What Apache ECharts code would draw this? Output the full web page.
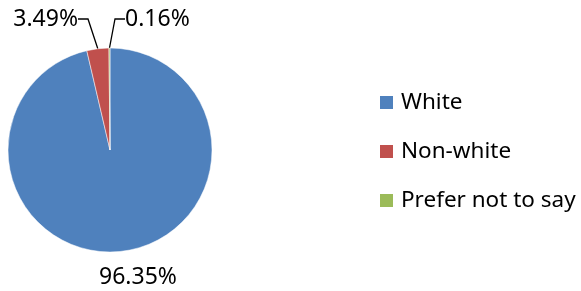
<!DOCTYPE html>
<html>
<head>
<meta charset="utf-8">
<script src="https://cdn.jsdelivr.net/npm/echarts@6/dist/echarts.min.js"></script>
<style>
  html, body { margin: 0; padding: 0; background: #fff; }
  #main { width: 581px; height: 291px; }
</style>
</head>
<body>
<div id="main"></div>
<script>
var categories = ['White', 'Non-white', 'Prefer not to say'];
var shares = [96.35, 3.49, 0.16];
var colors = ['#4F81BD', '#C0504D', '#9BBB59'];

var myChart = echarts.init(document.getElementById('main'));

var pieData = function () {
    var out = [];
    for (let i = 0; i < categories.length; i++) {
        var d = { name: categories[i], value: shares[i] };
        // the big slice has no leader line
        if (i === 0) d.labelLine = { show: false };
        out.push(d);
    }
    return out;
};

// label spots
var labelSpots = [
    { x: 138, y: 277, align: 'center' },
    { x: 78, y: 19, align: 'right' },
    { x: 125, y: 19, align: 'left' }
];

var option = {
    color: colors,
    textStyle: { fontFamily: 'Noto Sans, sans-serif' },
    legend: {
        orient: 'vertical',
        left: 378,
        top: 91,
        padding: 0,
        itemWidth: 15,
        itemHeight: 15,
        itemGap: 26,
        icon: 'rect',
        textStyle: { fontSize: 22.5, color: '#000', padding: [0, 0, 0, 2] },
        data: categories
    },
    series: [{
        type: 'pie',
        center: [110, 150],
        radius: 102,
        startAngle: 90,
        clockwise: true,
        percentPrecision: 2,
        avoidLabelOverlap: false,
        itemStyle: { borderColor: '#fff', borderWidth: 0.5 },
        label: {
            show: true,
            formatter: '{d}%',
            fontSize: 23,
            color: '#000'
        },
        labelLine: {
            show: true,
            length: 10,
            length2: 10,
            lineStyle: { color: '#000', width: 1.3 }
        },
        labelLayout: function (params) {
            var s = labelSpots[params.dataIndex];
            return { x: s.x, y: s.y, align: s.align, verticalAlign: 'middle' };
        },
        data: pieData()
    }]
};

myChart.setOption(option);
</script>
</body>
</html>
